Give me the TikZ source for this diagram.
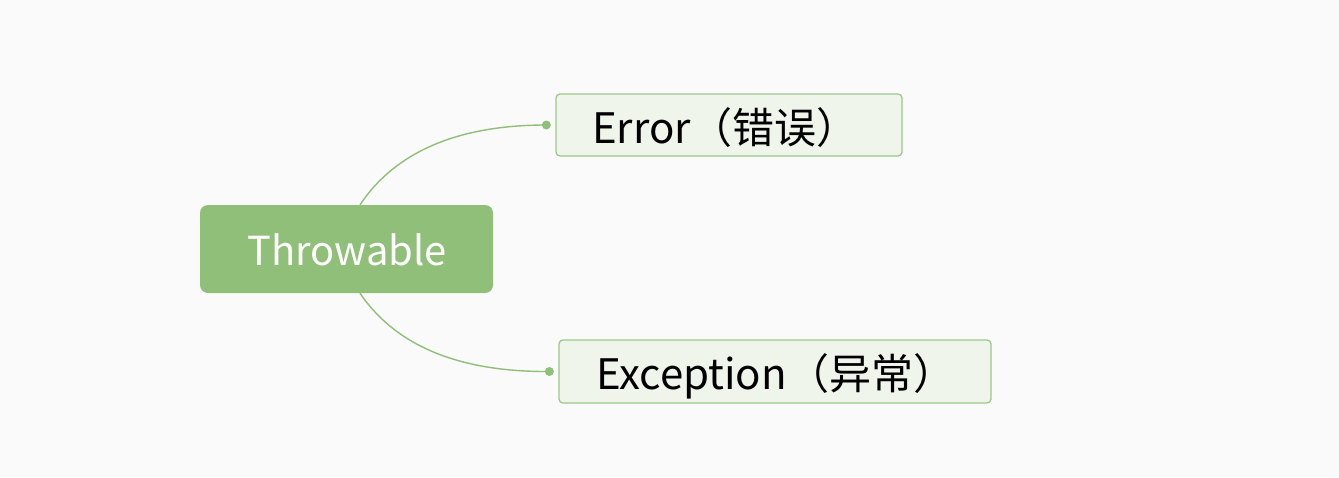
\documentclass[tikz,border=0pt]{standalone}
\usepackage{fontspec}
\setmainfont{Noto Sans CJK SC}
\definecolor{bg}{RGB}{250,250,250}
\definecolor{rootgreen}{RGB}{143,191,120}
\definecolor{leaffill}{RGB}{240,245,236}
\definecolor{leafline}{RGB}{155,201,138}
\begin{document}
\begin{tikzpicture}[x=1pt,y=-1pt,
  rootbox/.style={fill=rootgreen, rounded corners=8pt, minimum width=293pt, minimum height=88pt, inner sep=0pt},
  leafbox/.style={fill=leaffill, draw=leafline, line width=1.3pt, rounded corners=4pt, minimum height=62pt, inner sep=0pt},
  rootlabel/.style={text=white, font=\fontsize{40}{40}\selectfont, anchor=base west, inner sep=0pt},
  leaflabel/.style={text=black, font=\fontsize{42}{42}\selectfont, anchor=base west, inner sep=0pt},
  link/.style={draw=rootgreen, line width=1.4pt},
  dot/.style={circle, fill=rootgreen, inner sep=0pt, minimum size=9pt}]
\fill[bg] (0,0) rectangle (1339,477);
\useasboundingbox (0,0) rectangle (1339,477);
% boxes
\node[rootbox] (rootbox) at (346.5,249) {};
\node[leafbox, minimum width=346pt] (errbox) at (729,125) {};
\node[leafbox, minimum width=432pt, minimum height=63pt] (excbox) at (775,371.5) {};
% labels
\node[rootlabel] (root) at (247,265) {Throwable};
\node[leaflabel] (err) at (592,143) {Error（错误）};
\node[leaflabel] (exc) at (596,389) {Exception（异常）};
% connectors
\node[dot] (d1) at ([xshift=-9pt]errbox.west) {};
\node[dot] (d2) at ([xshift=-9pt]excbox.west) {};
\coordinate (roottop) at ([xshift=13.5pt]rootbox.north);
\coordinate (rootbot) at ([xshift=13.5pt]rootbox.south);
\draw[link] (roottop) .. controls (400,145) and (470,125) .. (d1.center);
\draw[link] (rootbot) .. controls (400,352) and (470,372) .. (d2.center);
\end{tikzpicture}
\end{document}
